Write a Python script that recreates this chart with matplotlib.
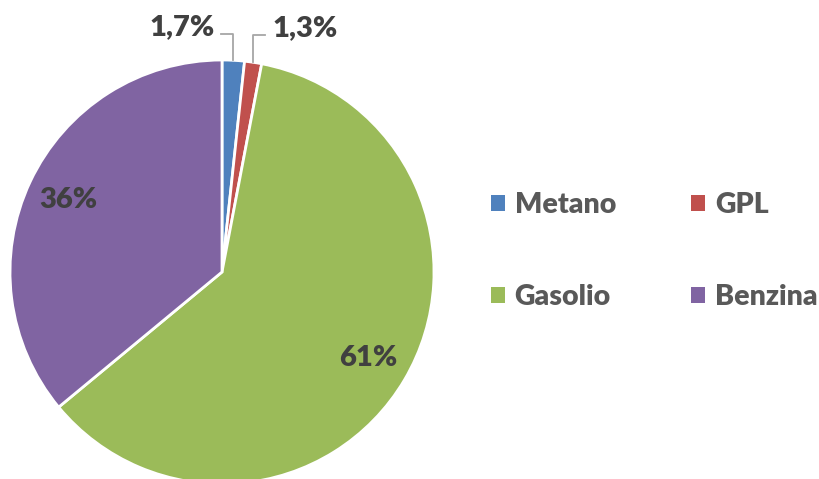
import numpy as np
import matplotlib
matplotlib.use('Agg')
import matplotlib.pyplot as plt
from matplotlib.patches import Patch

categories = ['Metano', 'GPL', 'Gasolio', 'Benzina']
shares = [1.7, 1.3, 61, 36]
pct_labels = ['1,7%', '1,3%', '61%', '36%']
colors = ['#4F81BD', '#C0504D', '#9BBB59', '#8064A2']

plt.rcParams['font.family'] = ['Lato', 'DejaVu Sans']

W, H = 819, 479
fig = plt.figure(figsize=(W / 100, H / 100), dpi=100)
ax = fig.add_axes([0, 0, 1, 1])

cx, cy, r = 222, H - 272, 212
wedges, _ = ax.pie(shares, colors=colors, startangle=90, counterclock=False,
                   center=(cx, cy), radius=r, frame=True,
                   wedgeprops=dict(edgecolor='white', linewidth=2))
ax.set_xlim(0, W)
ax.set_ylim(0, H)
ax.axis('off')

txt_kw = dict(fontsize=21, fontweight='heavy', color='#404040')
for i, w in enumerate(wedges):
    mid = np.deg2rad((w.theta1 + w.theta2) / 2)
    if shares[i] > 10:
        ax.text(cx + 0.8 * r * np.cos(mid), cy + 0.8 * r * np.sin(mid), pct_labels[i],
                ha='center', va='center', **txt_kw)
    else:
        ex, ey = cx + r * np.cos(mid), cy + r * np.sin(mid)
        side = -1 if i == 0 else 1
        ly = H - 34 if i == 0 else H - 35
        ax.plot([ex, ex, ex + side * 12], [ey, ly, ly], color='#A6A6A6', lw=1.3)
        ax.text(ex + side * 19, ly + 7, pct_labels[i], ha='right' if side < 0 else 'left',
                va='center', **txt_kw)

# legend fills by column, so reorder to get rows Metano/GPL, Gasolio/Benzina
order = [0, 2, 1, 3]
handles = [Patch(facecolor=colors[i], edgecolor='none') for i in order]
leg = ax.legend(handles, [categories[i] for i in order], ncol=2, loc='center left',
                bbox_to_anchor=(482 / W, 1 - 251 / H), frameon=False,
                prop=dict(family='Lato', weight='heavy', size=20.5),
                handlelength=0.5, handleheight=0.5, handletextpad=0.35,
                labelspacing=2.3, borderaxespad=0, borderpad=0.3, columnspacing=2.63)
for t in leg.get_texts():
    t.set_color('#595959')

fig.savefig('out.png', dpi=100)
